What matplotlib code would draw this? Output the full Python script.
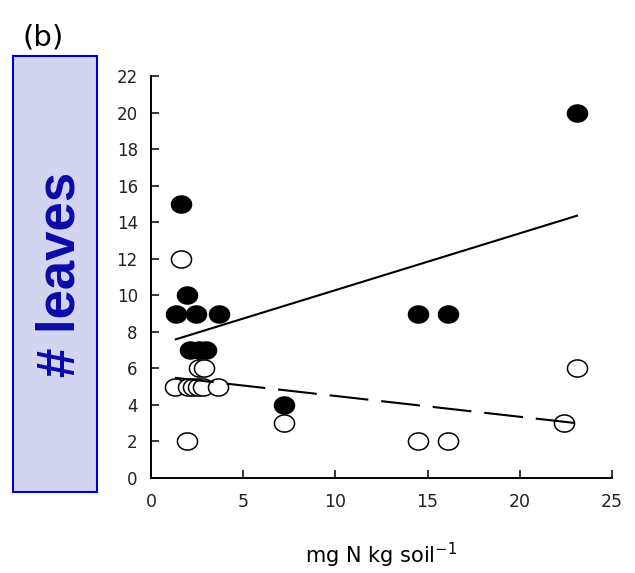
import numpy as np
import matplotlib
matplotlib.use("Agg")
import matplotlib.pyplot as plt
from matplotlib.path import Path
from matplotlib.patches import Rectangle

plt.rcParams['font.family'] = ['DejaVu Sans']

# filled circles
n_filled = [1.6, 1.95, 1.35, 2.45, 3.7, 2.1, 2.6, 3.0, 7.2, 14.5, 16.1, 23.1]
leaves_filled = [15, 10, 9, 9, 9, 7, 7, 7, 4, 9, 9, 20]
# open circles
n_open = [1.6, 1.95, 2.6, 2.9, 1.3, 2.0, 2.3, 2.55, 2.8, 3.65, 7.2, 14.5, 16.1, 22.4, 23.1]
leaves_open = [12, 2, 6, 6, 5, 5, 5, 5, 5, 5, 3, 2, 2, 3, 6]
# regression lines (slope, intercept)
fit_filled = (0.311, 7.17)
fit_open = (-0.114, 5.63)

x_ticks = [0, 5, 10, 15, 20, 25]
y_ticks = list(range(0, 23, 2))

# slightly wide ellipse marker, like the original
t = np.linspace(0, 2 * np.pi, 60)
ellipse = Path(np.column_stack([np.cos(t), 0.85 * np.sin(t)]), closed=True)

fig = plt.figure(figsize=(6.35, 5.73), dpi=100)
ax = fig.add_axes([0.2378, 0.1658, 0.726, 0.7016])

xf = np.array([min(n_filled), max(n_filled)])
ax.plot(xf, fit_filled[0] * xf + fit_filled[1], color='black', lw=1.5, zorder=4)
xo = np.array([min(n_open), max(n_open)])
ax.plot(xo, fit_open[0] * xo + fit_open[1], color='black', lw=1.5,
        ls=(0, (18.7, 6.2)), zorder=4)

ax.plot(n_open, leaves_open, ls='none', marker=ellipse, ms=14.5,
        mfc='white', mec='black', mew=1.1, clip_on=False, zorder=3)
ax.plot(n_filled, leaves_filled, ls='none', marker=ellipse, ms=14.5,
        mfc='black', mec='black', mew=1.0, clip_on=False, zorder=3)

ax.set_xlim(0, 25)
ax.set_ylim(0, 22)
ax.set_xticks(x_ticks)
ax.set_yticks(y_ticks)
for s in ['top', 'right']:
    ax.spines[s].set_visible(False)
for s in ['left', 'bottom']:
    ax.spines[s].set_linewidth(1.4)
ax.tick_params(direction='in', length=6, width=1.1, labelsize=12.5,
               labelcolor='#222222')
ax.tick_params(axis='x', pad=10.5)
ax.tick_params(axis='y', pad=9.5, labelsize=12)
ax.set_xlabel(r'mg N kg soil$^{\mathregular{-1}}$', fontsize=15, labelpad=22)

fig.patches.append(Rectangle((0.02, 0.1419), 0.1332, 0.7609, transform=fig.transFigure,
                             facecolor='#d2d4f0', edgecolor='#0000cc', lw=1.5))
fig.text(0.096, 0.5218, '# leaves', rotation=90, ha='center', va='center',
         fontsize=38, fontweight='bold', color='#0a0aa8', family='Liberation Sans')
fig.text(0.036, 0.935, '(b)', fontsize=21, ha='left', va='center')

fig.savefig('out.png', dpi=100)
